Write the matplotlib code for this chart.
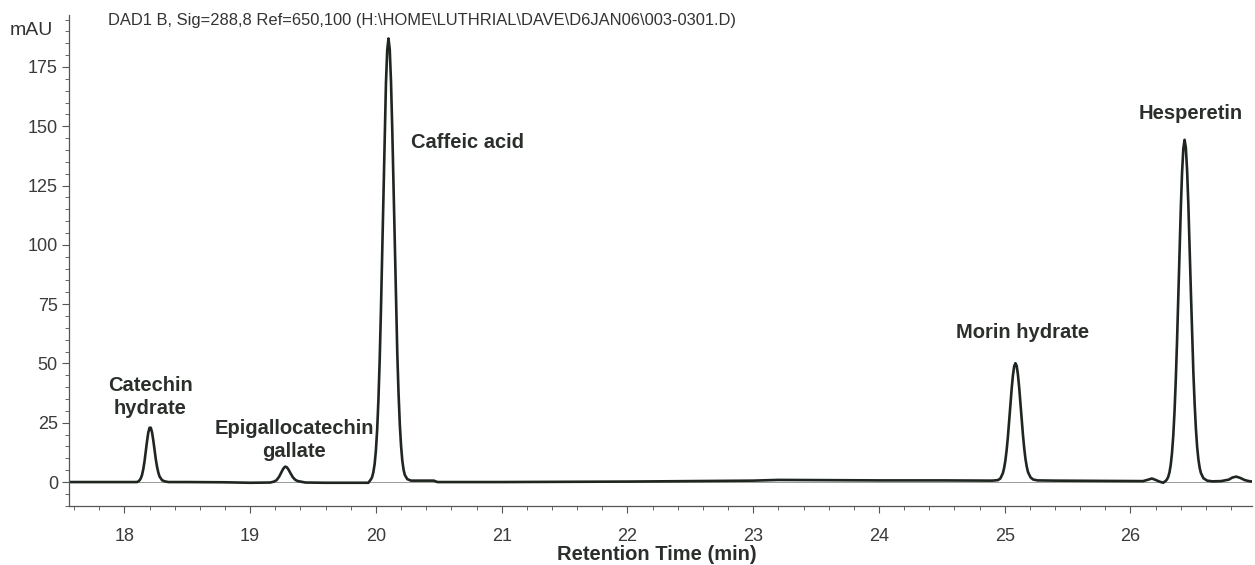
import matplotlib
matplotlib.use("Agg")
import matplotlib.pyplot as plt
from matplotlib.ticker import MultipleLocator
import numpy as np

plt.rcParams['font.family'] = ['Liberation Sans', 'DejaVu Sans']

# trace, split by region (time in min, signal in mAU)
base1_t = [17.56, 17.8, 18.0, 18.10]
base1_v = [0.0, 0.0, 0.0, 0.0]

catechin_t = [18.11, 18.12, 18.13, 18.14, 18.15, 18.16, 18.17, 18.18, 18.19, 18.20,
              18.21, 18.22, 18.23, 18.24, 18.25, 18.26, 18.27, 18.28, 18.30, 18.32, 18.35]
catechin_v = [0.2, 0.7, 1.5, 2.9, 5.3, 8.6, 12.8, 17.1, 20.8, 22.9,
              22.9, 21.0, 17.6, 13.5, 9.6, 6.4, 4.0, 2.3, 0.8, 0.3, 0.0]

base2_t = [18.5, 18.8, 19.0, 19.16]
base2_v = [0.0, -0.1, -0.3, -0.2]

egcg_t = [19.19, 19.21, 19.23, 19.25, 19.26, 19.27, 19.28, 19.29, 19.30, 19.31,
          19.32, 19.34, 19.36, 19.38, 19.41, 19.44]
egcg_v = [0.2, 0.8, 2.2, 4.3, 5.3, 6.1, 6.5, 6.3, 5.7, 4.8,
          3.8, 2.0, 0.9, 0.4, 0.1, -0.2]

base3_t = [19.6, 19.8, 19.94]
base3_v = [-0.3, -0.3, -0.3]

caffeic_t = [19.96, 19.97, 19.98, 19.99, 20.00, 20.01, 20.02, 20.03, 20.04, 20.05,
             20.06, 20.07, 20.08, 20.09, 20.10, 20.11, 20.12, 20.13, 20.14, 20.15,
             20.16, 20.17, 20.18, 20.19, 20.20, 20.21, 20.22, 20.23, 20.25, 20.28]
caffeic_v = [1.1, 2.1, 4.2, 7.6, 13.3, 22.0, 34.5, 51.2, 72.2, 96.6,
             122.5, 147.4, 168.2, 182.1, 187.0, 182.5, 169.0, 149.0, 125.0, 99.5,
             75.5, 54.5, 37.5, 24.5, 15.3, 9.0, 5.2, 3.0, 1.2, 0.6]

base4_t = [20.32, 20.46, 20.49, 21.0, 21.5, 22.0, 22.5, 23.0, 23.2, 23.6, 24.0, 24.5, 24.9]
base4_v = [0.6, 0.6, 0.0, 0.0, 0.1, 0.2, 0.4, 0.6, 0.9, 0.8, 0.7, 0.7, 0.6]

morin_t = [24.945, 24.965, 24.985, 24.995, 25.005, 25.015, 25.025, 25.035, 25.045, 25.055,
           25.065, 25.075, 25.085, 25.095, 25.105, 25.115, 25.125, 25.135, 25.145, 25.155,
           25.165, 25.175, 25.185, 25.205, 25.225, 25.26]
morin_v = [0.8, 1.5, 3.7, 5.9, 9.0, 13.4, 18.9, 25.4, 32.4, 39.2,
           44.9, 48.8, 50.1, 49.0, 45.3, 39.8, 33.2, 26.3, 19.8, 14.2,
           9.7, 6.5, 4.2, 2.0, 1.1, 0.7]

base5_t = [25.4, 25.7, 26.0, 26.1, 26.14, 26.17, 26.20, 26.23, 26.26]
base5_v = [0.6, 0.5, 0.4, 0.4, 1.0, 1.5, 0.9, 0.2, -0.3]

hesperetin_t = [26.28, 26.29, 26.30, 26.31, 26.32, 26.33, 26.34, 26.35, 26.36, 26.37,
                26.38, 26.39, 26.40, 26.41, 26.42, 26.43, 26.44, 26.45, 26.46, 26.47,
                26.48, 26.49, 26.50, 26.51, 26.52, 26.53, 26.54, 26.55, 26.56, 26.58, 26.61]
hesperetin_v = [0.5, 1.1, 2.2, 4.1, 7.3, 12.2, 19.5, 29.6, 42.9, 59.2,
                77.7, 97.0, 115.3, 130.5, 140.5, 144.3, 141.0, 131.5, 117.0, 99.5,
                80.5, 62.5, 46.0, 33.0, 22.5, 14.8, 9.5, 6.0, 3.8, 1.6, 0.6]

base6_t = [26.65, 26.72, 26.78, 26.81, 26.84, 26.87, 26.91, 26.95, 26.98]
base6_v = [0.3, 0.4, 1.0, 1.9, 2.3, 1.8, 0.8, 0.3, 0.2]

# peak annotations: (label, time, mAU, alignment)
peak_labels = ["Catechin\nhydrate", "Epigallocatechin\ngallate", "Caffeic acid",
               "Morin hydrate", "Hesperetin"]
label_t = [18.206, 19.35, 20.278, 25.14, 26.48]
label_v = [35.8, 17.7, 143.0, 63.0, 155.5]
label_ha = ["center", "center", "left", "center", "center"]

title = r"DAD1 B, Sig=288,8 Ref=650,100 (H:\HOME\LUTHRIAL\DAVE\D6JAN06\003-0301.D)"

t = np.concatenate([base1_t, catechin_t, base2_t, egcg_t, base3_t, caffeic_t,
                    base4_t, morin_t, base5_t, hesperetin_t, base6_t])
v = np.concatenate([base1_v, catechin_v, base2_v, egcg_v, base3_v, caffeic_v,
                    base4_v, morin_v, base5_v, hesperetin_v, base6_v])

fig = plt.figure(figsize=(12.55, 5.65), dpi=100)
ax = fig.add_axes([0.055, 0.1044, 0.943, 0.869])

ax.axhline(0, color='#9a9a9a', lw=0.7, zorder=1)
ax.plot(t, v, color='#1f2620', lw=1.9, zorder=2, solid_joinstyle='round')

ax.set_xlim(17.56, 26.97)
ax.set_ylim(-10.1, 196.9)

ax.xaxis.set_major_locator(MultipleLocator(1))
ax.xaxis.set_minor_locator(MultipleLocator(0.2))
ax.yaxis.set_major_locator(MultipleLocator(25))
ax.yaxis.set_minor_locator(MultipleLocator(5))

for s in ['top', 'right']:
    ax.spines[s].set_visible(False)
for s in ['left', 'bottom']:
    ax.spines[s].set_color('#555555')
    ax.spines[s].set_linewidth(0.9)

ax.tick_params(which='major', direction='out', length=5, width=0.8, color='#555555',
               labelsize=13, labelcolor='#3a3a3a')
ax.tick_params(which='minor', direction='out', length=3, width=0.7, color='#666666')
ax.tick_params(axis='x', which='major', pad=11)
ax.tick_params(axis='y', which='major', pad=3)

for lab, x, y, ha in zip(peak_labels, label_t, label_v, label_ha):
    ax.text(x, y, lab, ha=ha, va='center', fontsize=14.5, fontweight='bold',
            color='#2b2f2b', linespacing=1.25)

fig.text(0.086, 0.9646, title, fontsize=11.9, color='#333333', va='center', ha='left')
fig.text(0.008, 0.946, "mAU", fontsize=14, color='#333333', va='center', ha='left')
fig.text(0.5235, 0.018, "Retention Time (min)", fontsize=14.5, fontweight='bold',
         color='#2b2f2b', ha='center', va='center')

fig.savefig("out.png", dpi=100, facecolor='white')
